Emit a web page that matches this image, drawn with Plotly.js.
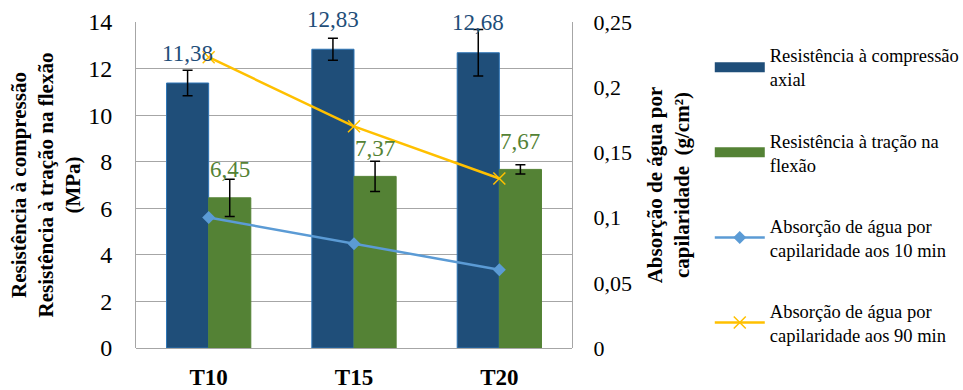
<!DOCTYPE html>
<html><head><meta charset="utf-8">
<script src="https://cdn.plot.ly/plotly-3.0.1.min.js"></script>
<style>body{margin:0;background:#fff}#c{width:963px;height:390px}</style>
</head><body><div id="c"></div>
<script>
const categories = ['T10', 'T15', 'T20'];
const compressao = [11.38, 12.83, 12.68];
const compressaoErr = [0.55, 0.47, 1.0];
const tracao = [6.45, 7.37, 7.67];
const tracaoErr = [0.8, 0.65, 0.2];
const absorcao10 = [0.100, 0.080, 0.060];
const absorcao90 = [0.223, 0.170, 0.130];
const names = ['Resistência à compressão<br>axial', 'Resistência à tração na<br>flexão',
  'Absorção de água por<br>capilaridade aos 10 min', 'Absorção de água por<br>capilaridade aos 90 min'];

const serif = 'Liberation Serif';
const fmt = v => v.toFixed(2).replace('.', ',');
const blue = '#1F4E79', green = '#548235';

const traces = [
  {type: 'bar', x: categories, y: compressao, name: names[0], legendgroup: 'a', showlegend: false,
   marker: {color: blue, line: {color: '#2E75B6', width: 1}},
   error_y: {type: 'data', array: compressaoErr, visible: true, color: '#000', thickness: 1.5, width: 5}},
  {type: 'bar', x: categories, y: tracao, name: names[1], legendgroup: 'b', showlegend: false,
   marker: {color: green, line: {color: green, width: 1}},
   error_y: {type: 'data', array: tracaoErr, visible: true, color: '#000', thickness: 1.5, width: 5}},
  // legend-only entries (wide swatches like the original legend)
  {type: 'scatter', mode: 'lines', x: [null], y: [null], name: names[0], legendgroup: 'a', showlegend: true,
   line: {color: blue, width: 10}, hoverinfo: 'skip'},
  {type: 'scatter', mode: 'lines', x: [null], y: [null], name: names[1], legendgroup: 'b', showlegend: true,
   line: {color: green, width: 10}, hoverinfo: 'skip'},
  {type: 'scatter', mode: 'lines+markers', x: categories, y: absorcao10, yaxis: 'y2', name: names[2], legendgroup: 'c',
   line: {color: '#5B9BD5', width: 2.5}, marker: {symbol: 'diamond', size: 10, color: '#5B9BD5'}},
  {type: 'scatter', mode: 'lines+markers', x: categories, y: absorcao90, yaxis: 'y2', name: names[3], legendgroup: 'd',
   line: {color: '#FFC000', width: 2.5}, marker: {symbol: 'x-thin', size: 12, line: {color: '#FFC000', width: 1.5}, color: '#FFC000'}}
];

const annotations = [];
categories.forEach((c, i) => {
  annotations.push({x: c, y: compressao[i], xref: 'x', yref: 'y', text: fmt(compressao[i]), showarrow: false,
    xshift: -21, yshift: 30, font: {family: serif, size: 23, color: blue}});
  annotations.push({x: c, y: tracao[i], xref: 'x', yref: 'y', text: fmt(tracao[i]), showarrow: false,
    xshift: 21, yshift: 28, font: {family: serif, size: 23, color: green}});
});

const layout = {
  width: 963, height: 390,
  margin: {l: 136, r: 391, t: 22, b: 42, autoexpand: false},
  paper_bgcolor: '#fff', plot_bgcolor: '#fff',
  separators: ',.',
  barmode: 'group', bargap: 0.42, bargroupgap: 0,
  font: {family: serif, color: '#000'},
  showlegend: true,
  legend: {x: 1.316, y: 0.955, xanchor: 'left', yanchor: 'top', traceorder: 'grouped', tracegroupgap: 34,
    itemwidth: 50, font: {family: serif, size: 18.5, color: '#000'}, bgcolor: 'rgba(0,0,0,0)'},
  xaxis: {type: 'category', showgrid: false, showline: false, ticks: '', ticklabelstandoff: 13,
    tickfont: {family: serif, size: 23, color: '#000', weight: 'bold'}},
  yaxis: {range: [0, 14], dtick: 2, showgrid: true, gridcolor: '#A6A6A6', gridwidth: 1,
    showline: true, linecolor: '#A6A6A6', linewidth: 1, zeroline: true, zerolinecolor: '#A6A6A6', mirror: false,
    tickfont: {family: serif, size: 24, color: '#000'}, ticks: '', ticklabelstandoff: 18,
    title: {text: 'Resistência à compressão<br>Resistência à tração na flexão<br>(MPa)', standoff: 1,
      font: {family: serif, size: 21, color: '#000', weight: 'bold'}}},
  yaxis2: {overlaying: 'y', side: 'right', range: [0, 0.25], dtick: 0.05, showgrid: false, zeroline: false,
    showline: true, linecolor: '#A6A6A6', linewidth: 1, ticks: '', ticklabelstandoff: 16,
    tickfont: {family: serif, size: 22, color: '#000'},
    title: {text: 'Absorção de água por<br>capilaridade  (g/cm²)', standoff: 16,
      font: {family: serif, size: 21, color: '#000', weight: 'bold'}}},
  annotations: annotations
};

Plotly.newPlot('c', traces, layout, {displayModeBar: false, staticPlot: true});
</script></body></html>
